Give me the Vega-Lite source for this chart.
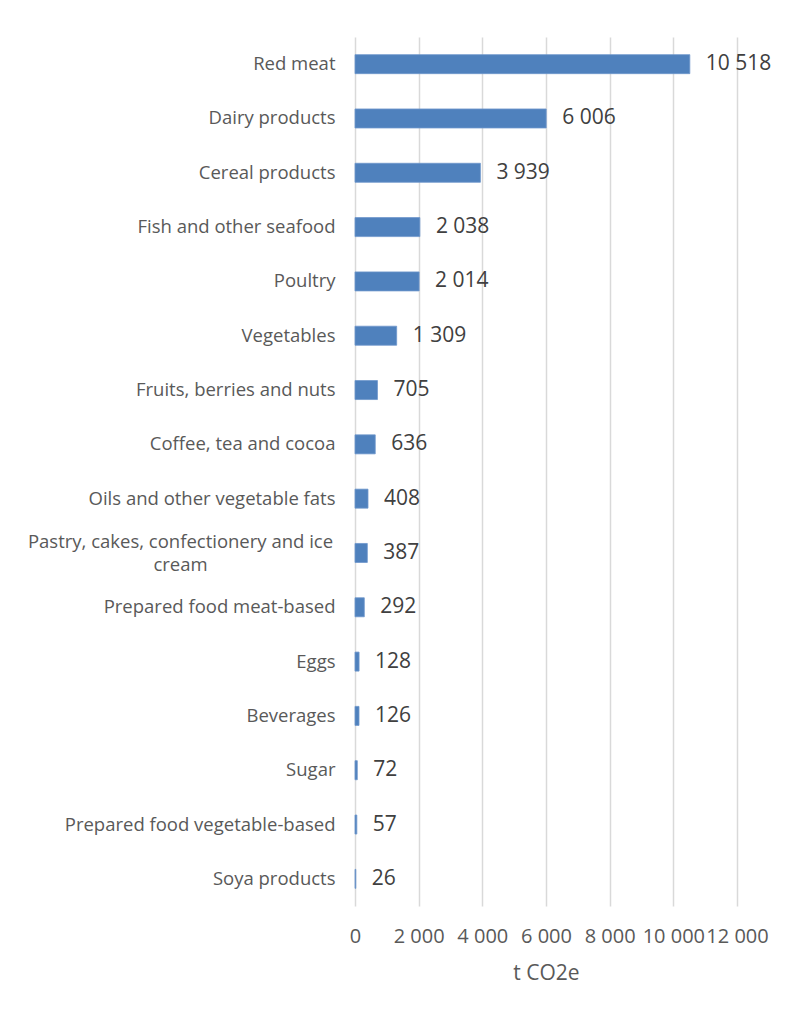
{
  "$schema": "https://vega.github.io/schema/vega-lite/v6.json",
  "width": 382,
  "height": 869,
  "autosize": "none",
  "padding": {"left": 355, "top": 37, "right": 51, "bottom": 110},
  "background": "white",
  "config": {
    "locale": {"number": {"decimal": ",", "thousands": " ", "grouping": [3], "currency": ["", ""]}},
    "view": {"stroke": null},
    "font": "Open Sans"
  },
  "data": {
    "values": [
      {"category": "Red meat", "value": 10518},
      {"category": "Dairy products", "value": 6006},
      {"category": "Cereal products", "value": 3939},
      {"category": "Fish and other seafood", "value": 2038},
      {"category": "Poultry", "value": 2014},
      {"category": "Vegetables", "value": 1309},
      {"category": "Fruits, berries and nuts", "value": 705},
      {"category": "Coffee, tea and cocoa", "value": 636},
      {"category": "Oils and other vegetable fats", "value": 408},
      {"category": "Pastry, cakes, confectionery and ice cream", "value": 387},
      {"category": "Prepared food meat-based", "value": 292},
      {"category": "Eggs", "value": 128},
      {"category": "Beverages", "value": 126},
      {"category": "Sugar", "value": 72},
      {"category": "Prepared food vegetable-based", "value": 57},
      {"category": "Soya products", "value": 26}
    ]
  },
  "encoding": {
    "y": {
      "field": "category",
      "type": "nominal",
      "sort": null,
      "scale": {"paddingInner": 0.65, "paddingOuter": 0.325},
      "axis": {
        "title": null,
        "domain": false,
        "ticks": false,
        "labelPadding": {"condition": {"test": "datum.value == 'Pastry, cakes, confectionery and ice cream'", "value": 175}, "value": 20},
        "labelAlign": {"condition": {"test": "datum.value == 'Pastry, cakes, confectionery and ice cream'", "value": "center"}, "value": "right"},
        "labelOffset": {"condition": {"test": "datum.value == 'Pastry, cakes, confectionery and ice cream'", "value": -11}, "value": 0},
        "labelFontSize": 18.5,
        "labelColor": "#595959",
        "labelLimit": 400,
        "labelLineHeight": 23,
        "labelExpr": "datum.value == 'Pastry, cakes, confectionery and ice cream' ? ['Pastry, cakes, confectionery and ice', 'cream'] : datum.label"
      }
    },
    "x": {
      "field": "value",
      "type": "quantitative",
      "scale": {"domain": [0, 12000], "nice": false},
      "axis": {
        "title": "t CO2e",
        "values": [0, 2000, 4000, 6000, 8000, 10000, 12000],
        "format": ",.0f",
        "domain": false,
        "ticks": false,
        "grid": true,
        "gridColor": "#d9d9d9",
        "gridWidth": 1.5,
        "labelFontSize": 20,
        "labelColor": "#595959",
        "labelPadding": 20,
        "labelOverlap": false,
        "labelFlush": false,
        "titleFontSize": 21,
        "titleFontWeight": "normal",
        "titleColor": "#595959",
        "titlePadding": 16
      }
    }
  },
  "layer": [
    {"mark": {"type": "bar", "color": "#4f81bd", "stroke": "#6f97cc", "strokeWidth": 0.8}},
    {
      "mark": {"type": "text", "align": "left", "baseline": "middle", "dx": 16, "fontSize": 21, "color": "#404040"},
      "encoding": {"text": {"field": "value", "type": "quantitative", "format": ","}}
    }
  ]
}
